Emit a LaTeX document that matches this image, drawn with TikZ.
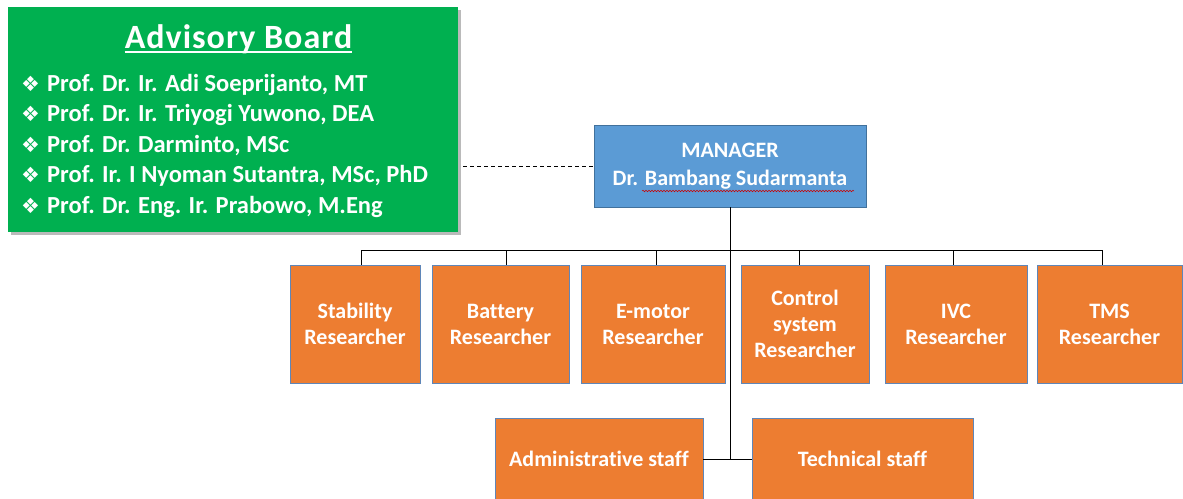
\documentclass[tikz,border=0pt]{standalone}
\usepackage{fontspec}
\setmainfont[Ligatures=NoCommon]{Carlito}
\newfontfamily\dejavu{DejaVu Sans}
\usetikzlibrary{shadows,decorations.pathmorphing}
\definecolor{ogreen}{HTML}{00B050}
\definecolor{oorange}{HTML}{ED7D31}
\definecolor{oblue}{HTML}{5B9BD5}
\definecolor{oedge}{HTML}{5F86B8}
\definecolor{mgredge}{HTML}{41719C}
\begin{document}
\begin{tikzpicture}[x=1pt,y=-1pt,
  rbox/.style={draw=oedge, line width=0.8pt, fill=oorange, text=white,
    font=\bfseries\fontsize{22}{26}\selectfont, align=center, inner sep=0pt,
    minimum height=118pt},
  sbox/.style={draw=oedge, line width=0.8pt, fill=oorange, text=white,
    font=\bfseries\fontsize{22}{26}\selectfont, align=center, inner sep=0pt,
    minimum height=82pt},
  mgrbox/.style={draw=mgredge, line width=0.8pt, fill=oblue, text=white,
    font=\bfseries\fontsize{22}{28}\selectfont, align=center, inner sep=0pt,
    minimum width=272pt, minimum height=82pt},
  boardbox/.style={fill=ogreen, inner sep=0pt, minimum width=450pt, minimum height=225pt,
    drop shadow={shadow xshift=3pt, shadow yshift=-3pt, opacity=0.45, fill=black!60}},
  btitle/.style={text=white, font=\bfseries\fontsize{34}{40}\selectfont\addfontfeatures{LetterSpace=3}, inner sep=0pt, anchor=base},
  bul/.style={text=white, font=\dejavu\fontsize{21}{24}\selectfont, inner sep=0pt, anchor=base west},
  bitem/.style={text=white, font=\bfseries\fontsize{24.5}{30}\selectfont, inner sep=0pt, anchor=base west},
  conn/.style={draw=black, line width=1pt}
]
\useasboundingbox (0,0) rectangle (1183,498);

% advisory board
\node[boardbox] (board) at (233,119.5) {};
\node[btitle] (title) at (238.5,48) {Advisory Board};
\draw[white, line width=1.6pt] ([yshift=-4pt]title.base west) -- ([yshift=-4pt]title.base east);
\foreach \i/\t in {1/{Prof. Dr. Ir. Adi Soeprijanto, MT},
                   2/{Prof. Dr. Ir. Triyogi Yuwono, DEA},
                   3/{Prof. Dr. Darminto, MSc},
                   4/{Prof. Ir. I Nyoman Sutantra, MSc, PhD},
                   5/{Prof. Dr. Eng. Ir. Prabowo, M.Eng}}{
  \node[bul] (b\i) at (21,{91+30.5*(\i-1)}) {❖};
  \node[bitem] (p\i) at (47,{91+30.5*(\i-1)}) {\t};
}

% manager
\node[mgrbox] (mgr) at (730,166) {MANAGER\\Dr. Bambang Sudarmanta};
\draw[red!80!black, line width=0.5pt, decorate,
  decoration={snake, amplitude=0.8pt, segment length=3pt}] (642,191) -- (854,191);

% researchers
\node[rbox, minimum width=130pt] (stab) at (355,324) {Stability\\Researcher};
\node[rbox, minimum width=137pt] (batt) at (500.5,324) {Battery\\Researcher};
\node[rbox, minimum width=144pt] (emot) at (653,324) {E-motor\\Researcher};
\node[rbox, minimum width=128pt] (ctrl) at (805,324) {Control\\system\\Researcher};
\node[rbox, minimum width=142pt] (ivc) at (956,324) {IVC\\Researcher};
\node[rbox, minimum width=145pt] (tms) at (1109.5,324) {TMS\\Researcher};

% staff
\node[sbox, minimum width=208pt] (admin) at (599,459) {Administrative staff};
\node[sbox, minimum width=221pt] (tech) at (862.5,459) {Technical staff};

% connectors
\coordinate (busL) at (361,250);
\coordinate (busR) at (1102,250);
\coordinate (join) at (730,459);
\draw[conn, dashed, dash pattern=on 4pt off 3pt] ([xshift=5pt]board.east |- mgr.west) -- (mgr.west);
\draw[conn] (mgr.south) -- (join);
\draw[conn] (busL) -- (busR);
\draw[conn] (busL) -- (busL |- stab.north);
\draw[conn] ([xshift=5.5pt]batt.north |- busL) -- ([xshift=5.5pt]batt.north);
\draw[conn] ([xshift=3pt]emot.north |- busL) -- ([xshift=3pt]emot.north);
\draw[conn] ([xshift=-6pt]ctrl.north |- busL) -- ([xshift=-6pt]ctrl.north);
\draw[conn] ([xshift=-3pt]ivc.north |- busL) -- ([xshift=-3pt]ivc.north);
\draw[conn] (busR) -- (busR |- tms.north);
\draw[conn] (admin.east) -- (tech.west);
\end{tikzpicture}
\end{document}
